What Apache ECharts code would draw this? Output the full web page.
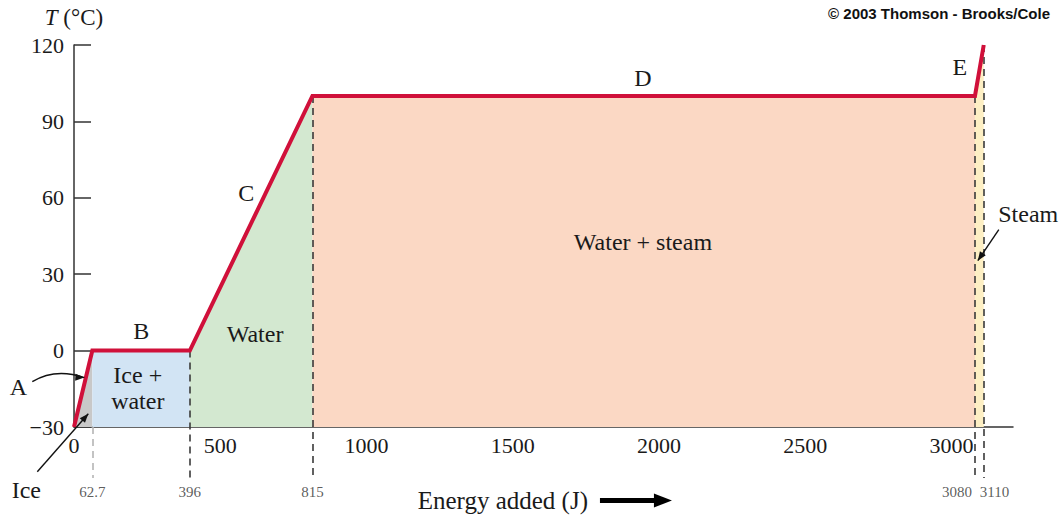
<!DOCTYPE html>
<html><head><meta charset="utf-8">
<script src="https://cdn.jsdelivr.net/npm/echarts@6/dist/echarts.min.js"></script>
<style>html,body{margin:0;padding:0;background:#fff}#c{width:1060px;height:522px}</style>
</head><body><div id="c"></div>
<script>
// ---- data ----
const energy = [0, 62.7, 396, 815, 3080, 3110];          // J
const temperature = [-30, 0, 0, 100, 100, 120];          // °C
const segmentNames = ['A', 'B', 'C', 'D', 'E'];
const phaseNames = ['Ice', 'Ice +\nwater', 'Water', 'Water + steam', 'Steam'];
const markerLabels = ['62.7', '396', '815', '3080', '3110'];
const xTickValues = [0, 500, 1000, 1500, 2000, 2500, 3000];
const yTickValues = [-30, 0, 30, 60, 90, 120];

// ---- styles ----
const phaseColors = ['#c8c8c8', '#d2e4f4', '#d3e8d0', '#fbd8c4', '#fdefc4'];
const serif = '"Liberation Serif", "DejaVu Serif", serif';
const ink = '#1a1a1a';
const redLine = '#d0103a';

const pts = energy.map((e, i) => [e, temperature[i]]);

const areaSeries = phaseNames.map((n, i) => ({
  type: 'line', name: n, xAxisIndex: 0, yAxisIndex: 0,
  data: [pts[i], pts[i + 1]], symbol: 'none', silent: true,
  lineStyle: { width: 0 },
  areaStyle: { color: phaseColors[i], opacity: 1, origin: 'start' },
  z: 1
}));

// dashed guide lines (overlay grid reaching below the axis)
const dashTops = energy.slice(1).map((e, i) => (i === 0 ? -30 : temperature[i + 1]));
const dashSeries = {
  type: 'line', xAxisIndex: 1, yAxisIndex: 1, data: [], silent: true, z: 3,
  markLine: {
    symbol: 'none', silent: true, label: { show: false }, animation: false,
    data: energy.slice(1).map((e, i) => [
      { coord: [e, dashTops[i]], lineStyle: { color: i === 0 ? '#b5b5b5' : '#3a3a3a', type: [7, 5], width: 1.6 } },
      { coord: [e, -50] }
    ])
  }
};
const markerLabelSeries = {
  type: 'scatter', xAxisIndex: 1, yAxisIndex: 1, symbolSize: 0, silent: true, z: 4,
  data: energy.slice(1).map((e, i) => ({
    value: [e, -50],
    label: {
      show: true, position: 'bottom', distance: 7, formatter: markerLabels[i],
      fontFamily: serif, fontSize: 15, color: '#333',
      align: i === 3 ? 'right' : (i === 4 ? 'left' : 'center'),
      offset: i === 3 ? [-3, 0] : (i === 4 ? [-4, 0] : [0, 0])
    }
  }))
};

const curve = {
  type: 'line', xAxisIndex: 0, yAxisIndex: 0, data: pts, symbol: 'none', silent: true,
  lineStyle: { color: redLine, width: 4, join: 'miter' }, z: 5
};

const option = {
  animation: false,
  backgroundColor: '#fff',
  grid: [
    { left: 74, right: 47, top: 45, height: 382 },
    { left: 74, right: 47, top: 45, height: 382 * 170 / 150 }
  ],
  xAxis: [
    {
      type: 'value', gridIndex: 0, min: 0, max: 3210, interval: 500,
      splitLine: { show: false },
      axisLine: { show: true, onZero: false, lineStyle: { color: '#333', width: 1.5 } },
      axisTick: { show: true, inside: true, length: 17, customValues: xTickValues, lineStyle: { color: '#555', width: 1 } },
      axisLabel: { customValues: xTickValues, fontFamily: serif, fontSize: 22, color: ink, margin: 7,
        formatter: v => String(v) }
    },
    { type: 'value', gridIndex: 1, min: 0, max: 3210, show: false }
  ],
  yAxis: [
    {
      type: 'value', gridIndex: 0, min: -30, max: 120, interval: 30,
      splitLine: { show: false },
      axisLine: { show: true, onZero: false, lineStyle: { color: '#333', width: 1.5 } },
      axisTick: { show: true, inside: true, length: 17, customValues: yTickValues, lineStyle: { color: '#333', width: 1.5 } },
      axisLabel: {
        customValues: yTickValues, fontFamily: serif, fontSize: 22, color: ink, margin: 10,
        formatter: v => (v < 0 ? '\u2212' + (-v) : String(v))
      }
    },
    { type: 'value', gridIndex: 1, min: -50, max: 120, show: false }
  ],
  series: [...areaSeries, dashSeries, markerLabelSeries, curve]
};

const chart = echarts.init(document.getElementById('c'), null, { renderer: 'svg' });
chart.setOption(option);

// ---- annotations (placed in data coordinates, converted through the chart's scales) ----
const P = (x, y) => chart.convertToPixel({ gridIndex: 0 }, [x, y]);
function txt(x, y, text, extra) {
  const p = P(x, y);
  return {
    type: 'text', x: p[0], y: p[1], z: 10,
    style: Object.assign({ text, font: '24px ' + serif, fill: ink, align: 'center', verticalAlign: 'middle', lineHeight: 26 }, extra || {})
  };
}
function head(tip, from, len, half, color) {
  const a = Math.atan2(tip[1] - from[1], tip[0] - from[0]);
  const bx = tip[0] - len * Math.cos(a), by = tip[1] - len * Math.sin(a);
  const nx = -Math.sin(a) * half, ny = Math.cos(a) * half;
  return { type: 'polygon', z: 10, shape: { points: [tip, [bx + nx, by + ny], [bx - nx, by - ny]] }, style: { fill: color } };
}
const segLabelPos = [null, [230, 7.8], [589, 62], [1945, 107.2], [3028, 111.5]];
const phaseLabelPos = [null, [218, -14.5], [619, 6.6], [1945, 42.8], null];

const g = [];
segLabelPos.forEach((p, i) => { if (p) g.push(txt(p[0], p[1], segmentNames[i])); });
phaseLabelPos.forEach((p, i) => { if (p) g.push(txt(p[0], p[1], phaseNames[i])); });
g.push(txt(-190, -14.2, segmentNames[0]));
g.push(txt(-163, -54.6, phaseNames[0]));
g.push(txt(3262, 53.8, phaseNames[4]));

// A arrow (curved)
{
  const t = P(-142.5, -12.2), c = P(-63.9, -6.7), e = P(35.2, -10.6);
  g.push({ type: 'bezierCurve', z: 10, shape: { x1: t[0], y1: t[1], cpx1: c[0], cpy1: c[1], x2: e[0], y2: e[1] }, style: { stroke: '#111', lineWidth: 1.4, fill: null } });
  g.push(head(e, [e[0] - 10, e[1] - 0.5], 9, 3.5, '#111'));
}
// Ice arrow
{
  const t = P(-125.4, -47.6), e = P(48.9, -24.8);
  g.push({ type: 'line', z: 10, shape: { x1: t[0], y1: t[1], x2: e[0], y2: e[1] }, style: { stroke: '#111', lineWidth: 1.4 } });
  g.push(head(e, t, 9, 3.5, '#111'));
}
// Steam arrow
{
  const t = P(3161.5, 47.5), e = P(3089.7, 35.3);
  g.push({ type: 'line', z: 10, shape: { x1: t[0], y1: t[1], x2: e[0], y2: e[1] }, style: { stroke: '#111', lineWidth: 1.4 } });
  g.push(head(e, t, 9, 3.5, '#111'));
}
// axis titles
{
  const p = P(0, 130.8);
  g.push({ type: 'text', x: p[0], y: p[1], z: 10, style: { text: '{i|T} (°C)', font: '23px ' + serif, fill: ink, align: 'center', verticalAlign: 'middle',
    rich: { i: { fontStyle: 'italic', fontFamily: serif, fontSize: 23, fill: ink } } } });
}
g.push(txt(1466, -58.9, 'Energy added (J)', { font: '25px ' + serif }));
{
  const a = P(1798, -58.9), b = P(2044, -58.9);
  g.push({ type: 'line', z: 10, shape: { x1: a[0], y1: a[1], x2: b[0] - 12, y2: b[1] }, style: { stroke: '#000', lineWidth: 5 } });
  g.push(head(b, a, 18, 7, '#000'));
}
g.push({ type: 'text', right: 10, top: 6, z: 10, style: { text: '© 2003 Thomson - Brooks/Cole', font: 'bold 15px "Liberation Sans", Arial, sans-serif', fill: '#111' } });

chart.setOption({ graphic: g });
</script>
</body></html>
